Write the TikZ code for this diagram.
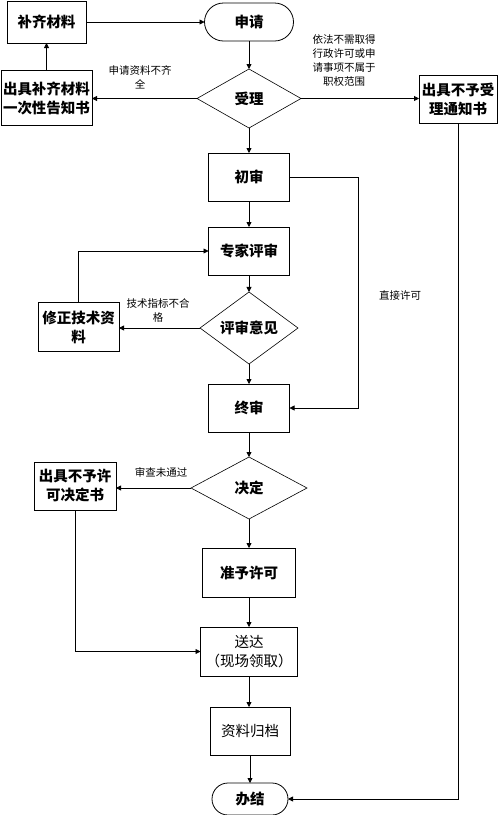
\documentclass[tikz,border=0pt]{standalone}
\usepackage{fontspec}
\setmainfont{Noto Sans CJK SC}
\usetikzlibrary{arrows.meta,shapes.geometric}
\begin{document}
\begin{tikzpicture}[x=1pt,y=-1pt,
  every node/.style={inner sep=0pt,outer sep=0pt},
  box/.style={draw,line width=0.8pt,rectangle,align=center,font=\fontsize{14.5}{19}\selectfont\bfseries},
  boxr/.style={draw,line width=0.8pt,rectangle,align=center,font=\fontsize{14.5}{19}\selectfont},
  term/.style={draw,line width=0.8pt,rectangle,rounded corners=#1,align=center,font=\fontsize{14.5}{19}\selectfont\bfseries},
  dia/.style={draw,line width=0.6pt,diamond,align=center,font=\fontsize{14.5}{19}\selectfont\bfseries},
  lbl/.style={align=center,font=\fontsize{10.5}{14}\selectfont},
  arr/.style={draw,line width=0.8pt,-{Triangle[length=5pt,width=5pt]}},
  ln/.style={draw,line width=0.8pt}
]
\useasboundingbox[fill=white] (0,0) rectangle (498,815);

\node[box,minimum width=79pt,minimum height=42pt] (bq) at (46.5,22) {补齐材料};
\node[term=19pt,minimum width=89pt,minimum height=38pt] (sq) at (249,22) {申请};
\node[dia,minimum width=104pt,minimum height=59pt] (sl) at (249,98.5) {受理};
\node[box,minimum width=91pt,minimum height=55pt] (gz) at (46.5,98) {出具补齐材料\\一次性告知书};
\node[box,minimum width=78pt,minimum height=48pt] (bsl) at (458,99) {出具不予受\\理通知书};
\node[box,minimum width=81pt,minimum height=48pt] (cs) at (249,177) {初审};
\node[box,minimum width=81pt,minimum height=48pt] (zj) at (249,251) {专家评审};
\node[dia,minimum width=98pt,minimum height=56pt] (ps) at (249,328) {评审意见};
\node[box,minimum width=81pt,minimum height=49pt] (xz) at (78.5,327) {修正技术资\\料};
\node[box,minimum width=81pt,minimum height=48pt] (zs) at (249,408) {终审};
\node[dia,minimum width=116pt,minimum height=62pt] (jd) at (249,488) {决定};
\node[box,minimum width=82pt,minimum height=48pt] (byx) at (75,486) {出具不予许\\可决定书};
\node[box,minimum width=93pt,minimum height=49pt] (zy) at (249,572.5) {准予许可};
\node[boxr,minimum width=97pt,minimum height=49pt] (sd) at (249,651.5) {送达\\（现场领取）};
\node[boxr,minimum width=80pt,minimum height=48pt] (gd) at (250,731) {资料归档};
\node[term=16pt,minimum width=76pt,minimum height=32pt] (bj) at (250,799) {办结};

\coordinate (r1) at (358,177);
\coordinate (r2) at (358,408);

\path[arr] (bq.east) -- (bq.east -| sq.west);
\path[arr] (sq.south) -- (sl.north);
\path[arr] (sl.west) -- (gz.east |- sl.west);
\path[arr] (gz.north) -- (bq.south);
\path[arr] (sl.east) -- (bsl.west |- sl.east);
\path[arr] (sl.south) -- (cs.north);
\path[arr] (cs.east) -- (r1) -- (r2) -- (zs.east);
\path[arr] (cs.south) -- (zj.north);
\path[arr] (zj.south) -- (ps.north);
\path[arr] (ps.west) -- (xz.east |- ps.west);
\path[arr] (xz.north) |- (zj.west);
\path[arr] (ps.south) -- (zs.north);
\path[arr] (zs.south) -- (jd.north);
\path[arr] (jd.west) -- (byx.east |- jd.west);
\path[arr] (byx.south) |- (sd.west);
\path[arr] (jd.south) -- (zy.north);
\path[arr] (zy.south) -- (sd.north);
\path[arr] (sd.south) -- (gd.north -| sd.south);
\path[arr] (gd.south) -- (bj.north);
\path[arr] (bsl.south) |- (bj.east);

\node[lbl] (l1) at (140,77) {申请资料不齐\\全};
\node[lbl] (l2) at (344,61) {依法不需取得\\行政许可或申\\请事项不属于\\职权范围};
\node[lbl] (l3) at (400,296) {直接许可};
\node[lbl] (l4) at (158,310) {技术指标不合\\格};
\node[lbl] (l5) at (161,472) {审查未通过};
\end{tikzpicture}
\end{document}
